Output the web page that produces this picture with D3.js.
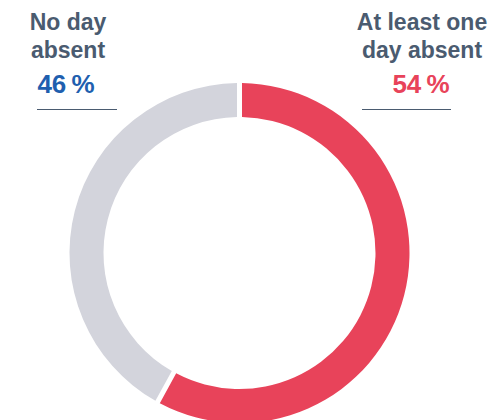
<!DOCTYPE html>
<html>
<head>
<meta charset="utf-8">
<script src="https://cdn.jsdelivr.net/npm/d3@7"></script>
<style>
  body { margin: 0; background: #fff; }
  text { font-family: "Liberation Sans", Arial, sans-serif; font-weight: bold; }
</style>
</head>
<body>
<div id="chart"></div>
<script>
// data
const categories = ['At least one day absent', 'No day absent'];
const labelLines = [['At least one', 'day absent'], ['No day', 'absent']];
const shares     = [54, 46];          // printed percentages
const ringShares = [58, 42];          // share of the ring as it is drawn
const colors     = ['#e8435a', '#d3d4dc'];
const pctColors  = ['#e8435a', '#1f5faf'];

// =============================================
const width  = 490;
const height = 420;
const cx = 239.5, cy = 253;

let svg = d3.select('#chart')
            .append('svg')
            .attr('width', width)
            .attr('height', height);

let pie = d3.pie()
            .sort(null)
            .value(d => d);

let arc = d3.arc()
            .innerRadius(136)
            .outerRadius(170)
            .padAngle(0.023);

svg.append('g')
   .attr('transform', `translate(${cx},${cy})`)
   .selectAll('path')
   .data(pie(ringShares))
   .enter()
   .append('path')
   .attr('d', arc)
   .attr('fill', (d, i) => colors[i]);

// labels: right one for the first category, left one for the second
const labelPos = [
  { x: 422, pctX: 421, line: [362, 451] },
  { x: 68,  pctX: 66,  line: [37, 117] }
];

categories.forEach(function(c, i) {
  let g = svg.append('g');
  labelLines[i].forEach(function(t, j) {
    g.append('text')
     .attr('x', labelPos[i].x)
     .attr('y', 30 + j * 28)
     .attr('text-anchor', 'middle')
     .attr('font-size', 23)
     .attr('fill', '#4a5b70')
     .text(t);
  });
  g.append('text')
   .attr('x', labelPos[i].pctX)
   .attr('y', 93)
   .attr('text-anchor', 'middle')
   .attr('font-size', 26)
   .attr('fill', pctColors[i])
   .text(shares[i] + '\u2009%');
  g.append('line')
   .attr('x1', labelPos[i].line[0])
   .attr('x2', labelPos[i].line[1])
   .attr('y1', 109.5)
   .attr('y2', 109.5)
   .attr('stroke', '#4a5b70')
   .attr('stroke-width', 1.2);
});
</script>
</body>
</html>
